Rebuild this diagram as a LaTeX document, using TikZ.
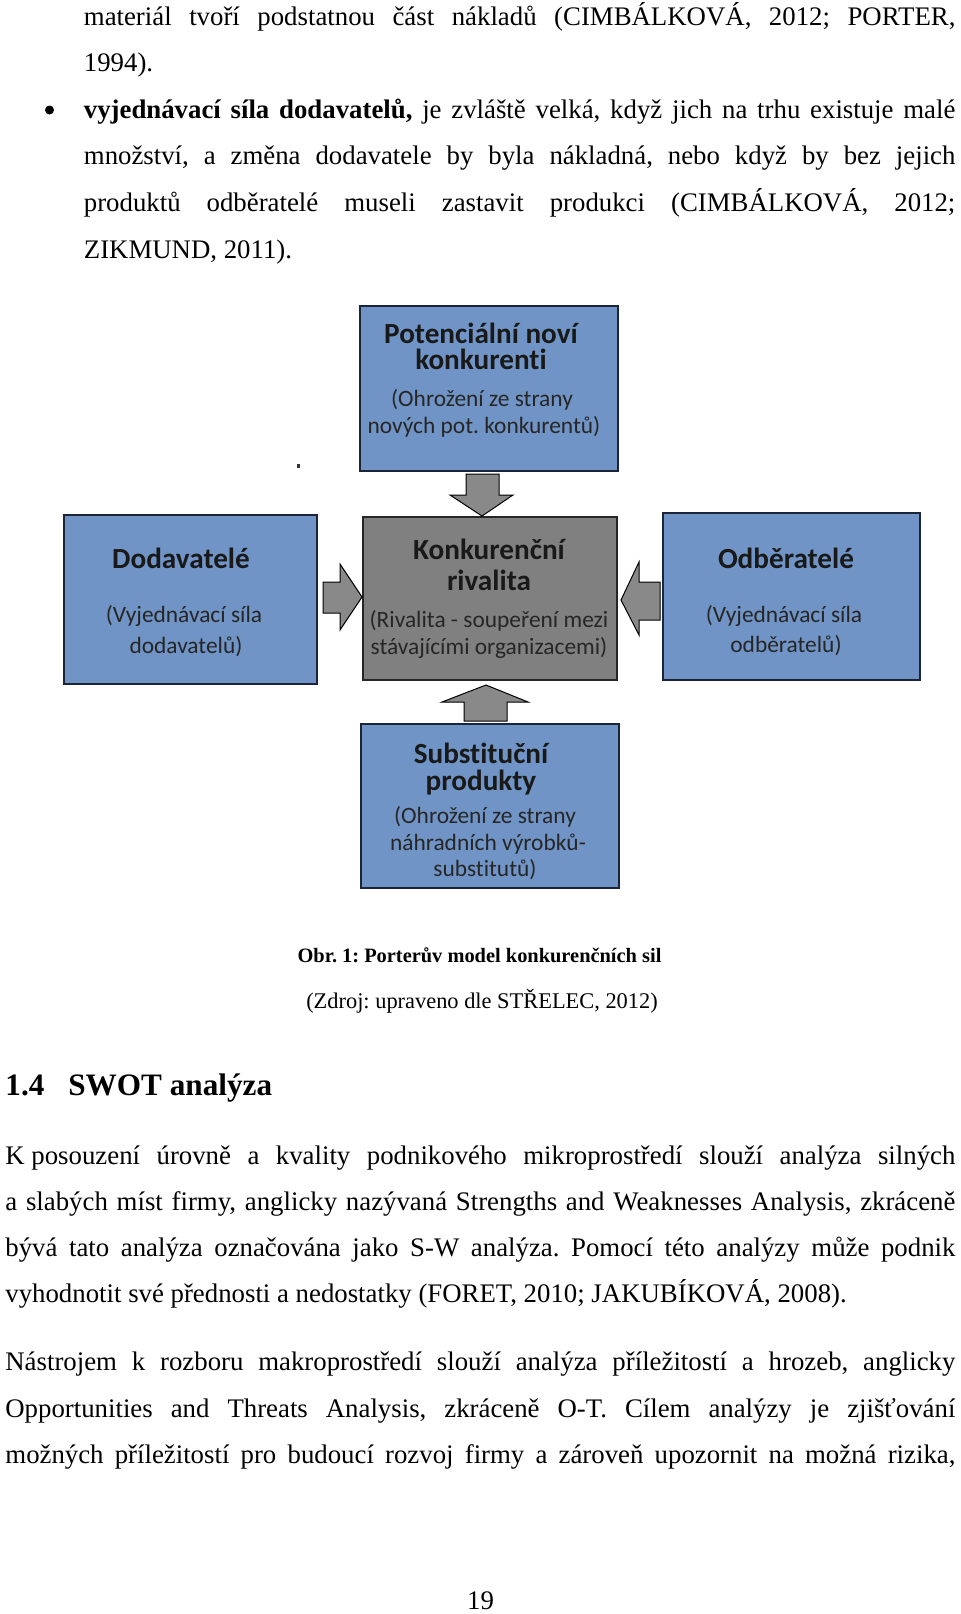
\documentclass[tikz,border=0pt]{standalone}
\usepackage{fontspec}
\setmainfont{Liberation Serif}
\newfontfamily\calib[Ligatures=NoCommon]{Carlito}
\usetikzlibrary{fit}
\definecolor{boxblue}{RGB}{112,148,197}
\definecolor{boxgray}{RGB}{128,128,128}
\definecolor{arrgray}{RGB}{137,137,137}
\definecolor{edgeblue}{RGB}{28,36,55}
\newcommand\myBody{\fontsize{13.4pt}{16pt}\selectfont}
\newcommand\myHead{\fontsize{15.6pt}{18pt}\selectfont\bfseries}
\newcommand\myCap{\fontsize{11.2pt}{13pt}\selectfont}
\frenchspacing
\begin{document}
\frenchspacing
\begin{tikzpicture}[x=0.5pt,y=-0.5pt,
  txt/.style={inner sep=0pt, anchor=base west, font=\myBody},
  ctxt/.style={inner sep=0pt, anchor=base, font=\myBody},
  bluebox/.style={draw=edgeblue, line width=1pt, fill=boxblue, inner sep=0pt},
  graybox/.style={draw=black!85, line width=1pt, fill=boxgray, inner sep=0pt},
  btitle/.style={inner sep=0pt, anchor=base, text=black!90, font=\calib\bfseries\fontsize{14.6pt}{17pt}\selectfont},
  bsub/.style={inner sep=0pt, anchor=base, text=black!85, font=\calib\fontsize{11.7pt}{14pt}\selectfont},
  blockarrow/.style={draw=black, line width=0.5pt, fill=arrgray, line join=miter}]
\path[use as bounding box, fill=white] (0,0) rectangle (960,1614);

% --- top text ---
\node[txt] (l1) at (83.5,25) {\makebox[435.75pt][s]{materiál tvoří podstatnou část nákladů (CIMBÁLKOVÁ, 2012; PORTER,}};
\node[txt] (l2) at (83.5,71.5) {1994).};
\node[circle, fill=black, inner sep=0pt, minimum size=4.5pt] (bul) at (49.5,110) {};
\node[txt] (l3) at (83.5,118) {\makebox[435.75pt][s]{\textbf{vyjednávací síla dodavatelů,} je zvláště velká, když jich na trhu existuje malé}};
\node[txt] (l4) at (83.5,164.5) {\makebox[435.75pt][s]{množství, a změna dodavatele by byla nákladná, nebo když by bez jejich}};
\node[txt] (l5) at (83.5,211) {\makebox[435.75pt][s]{produktů odběratelé museli zastavit produkci (CIMBÁLKOVÁ, 2012;}};
\node[txt] (l6) at (83.5,258) {ZIKMUND, 2011).};

% --- diagram boxes ---
\node[bluebox, fit={(360,306) (618,471)}] (top) {};
\node[bluebox, fit={(64,515) (317,684)}] (left) {};
\node[graybox, fit={(363,517) (617,680)}] (center) {};
\node[bluebox, fit={(663,513) (920,680)}] (right) {};
\node[bluebox, fit={(361,724) (619,888)}] (bottom) {};

% box texts
\node[btitle] (topT1) at (481,343) {Potenciální noví};
\node[btitle] (topT2) at (481,369) {konkurenti};
\node[bsub] (topS1) at (482,406) {(Ohrožení ze strany};
\node[bsub] (topS2) at (484,433) {nových pot. konkurentů)};

\node[btitle] (leftT1) at (181,568) {Dodavatelé};
\node[bsub] (leftS1) at (184,622) {(Vyjednávací síla};
\node[bsub] (leftS2) at (186,653) {dodavatelů)};

\node[btitle] (cenT1) at (489,559) {Konkurenční};
\node[btitle] (cenT2) at (489,590) {rivalita};
\node[bsub] (cenS1) at (489,627) {(Rivalita - soupeření mezi};
\node[bsub] (cenS2) at (489,654) {stávajícími organizacemi)};

\node[btitle] (rightT1) at (786,568) {Odběratelé};
\node[bsub] (rightS1) at (784,622) {(Vyjednávací síla};
\node[bsub] (rightS2) at (786,652) {odběratelů)};

\node[btitle] (botT1) at (481,763) {Substituční};
\node[btitle] (botT2) at (481,790) {produkty};
\node[bsub] (botS1) at (485,823) {(Ohrožení ze strany};
\node[bsub] (botS2) at (488,850) {náhradních výrobků-};
\node[bsub] (botS3) at (485,876) {substitutů)};

% block arrows
\draw[blockarrow] (466,474) -- (499,474) -- (499,495) -- (513,495) -- (482,516) -- (450,495) -- (466,495) -- cycle;
\draw[blockarrow] (323,582) -- (340,582) -- (340,564) -- (362,597) -- (340,630) -- (340,613) -- (323,613) -- cycle;
\draw[blockarrow] (660,582) -- (639,582) -- (639,562) -- (621,600) -- (639,635) -- (639,620) -- (660,620) -- cycle;
\draw[blockarrow] (464,721) -- (507,721) -- (507,702) -- (528,702) -- (486,685) -- (442,702) -- (464,702) -- cycle;

% stray dot
\fill[black!80] (297,464) rectangle (300,468);

% caption
\node[inner sep=0pt, anchor=base, font=\fontsize{10.2pt}{12pt}\selectfont\bfseries] (cap1) at (479.5,962) {Obr. 1: Porterův model konkurenčních sil};
\node[inner sep=0pt, anchor=base, font=\myCap] (cap2) at (482,1008) {(Zdroj: upraveno dle STŘELEC, 2012)};

% heading
\node[inner sep=0pt, anchor=base west, font=\myHead] (hnum) at (5,1095) {1.4};
\node[inner sep=0pt, anchor=base west, font=\myHead] (htxt) at (68,1095) {SWOT analýza};

% paragraph 1
\node[txt] (p1) at (5,1164) {\makebox[475pt][s]{\mbox{K posouzení} úrovně a kvality podnikového mikroprostředí slouží analýza silných}};
\node[txt] (p2) at (5,1210) {\makebox[475pt][s]{a slabých míst firmy, anglicky nazývaná Strengths and Weaknesses Analysis, zkráceně}};
\node[txt] (p3) at (5,1256.5) {\makebox[475pt][s]{bývá tato analýza označována jako S-W analýza. Pomocí této analýzy může podnik}};
\node[txt] (p4) at (5,1302) {vyhodnotit své přednosti a nedostatky (FORET, 2010; JAKUBÍKOVÁ, 2008).};

% paragraph 2
\node[txt] (q1) at (5,1370) {\makebox[475pt][s]{Nástrojem k rozboru makroprostředí slouží analýza příležitostí a hrozeb, anglicky}};
\node[txt] (q2) at (5,1417) {\makebox[475pt][s]{Opportunities and Threats Analysis, zkráceně O-T. Cílem analýzy je zjišťování}};
\node[txt] (q3) at (5,1463) {\makebox[475pt][s]{možných příležitostí pro budoucí rozvoj firmy a zároveň upozornit na možná rizika,}};

% page number
\node[ctxt] (pg) at (480.5,1609) {19};
\end{tikzpicture}
\end{document}
